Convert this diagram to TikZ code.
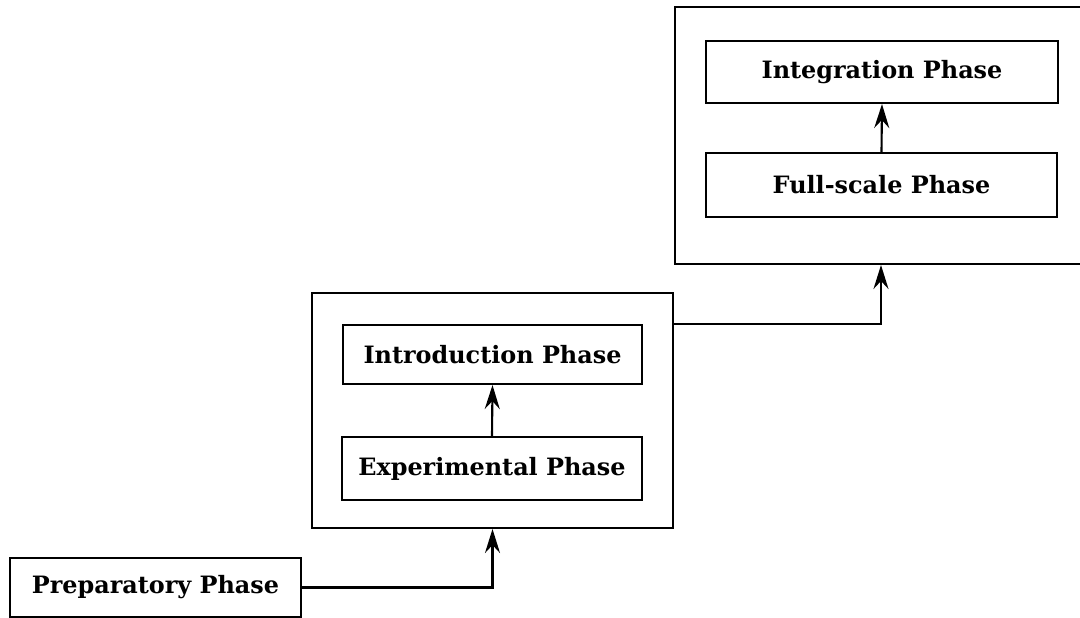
\documentclass[tikz,border=0pt]{standalone}
\usepackage{fontspec}
\setmainfont{DejaVu Serif}
\usetikzlibrary{arrows.meta}
\begin{document}
\begin{tikzpicture}[x=0.02cm, y=-0.02cm, line width=1.2pt,
  >={Stealth[length=4.8mm,width=3mm,inset=1.6mm]},
  phase/.style={draw, rectangle, inner sep=0pt, font=\fontsize{13.6}{15}\selectfont\bfseries},
  stage/.style={draw, rectangle, inner sep=0pt}]
\useasboundingbox (0, 0) rectangle (1080, 618);
% outer boxes
\node[stage, minimum width=7.22cm, minimum height=4.7cm] (midbox) at (492.5, 410.5) {};
\node[stage, minimum width=8.24cm, minimum height=5.14cm] (topbox) at (881, 135.5) {};
% phases
\node[phase, minimum width=5.82cm, minimum height=1.18cm] (prep) at (155.5, 587.5) {Preparatory Phase};
\node[phase, minimum width=5.98cm, minimum height=1.18cm] (intro) at (492.5, 354.5) {Introduction Phase};
\node[phase, minimum width=6.0cm, minimum height=1.26cm] (exper) at (492, 468.5) {Experimental Phase};
\node[phase, minimum width=7.04cm, minimum height=1.24cm] (integ) at (882, 72) {Integration Phase};
\node[phase, minimum width=7.02cm, minimum height=1.28cm] (full) at (881.5, 185) {Full-scale Phase};
% connectors
\draw[->] (prep.east) -| (midbox.south);
\draw[->] (exper.north) -- (intro.south);
\draw[->] (intro.north -| midbox.east) -| (topbox.south);
\draw[->] (full.north) -- (integ.south);
\end{tikzpicture}
\end{document}
